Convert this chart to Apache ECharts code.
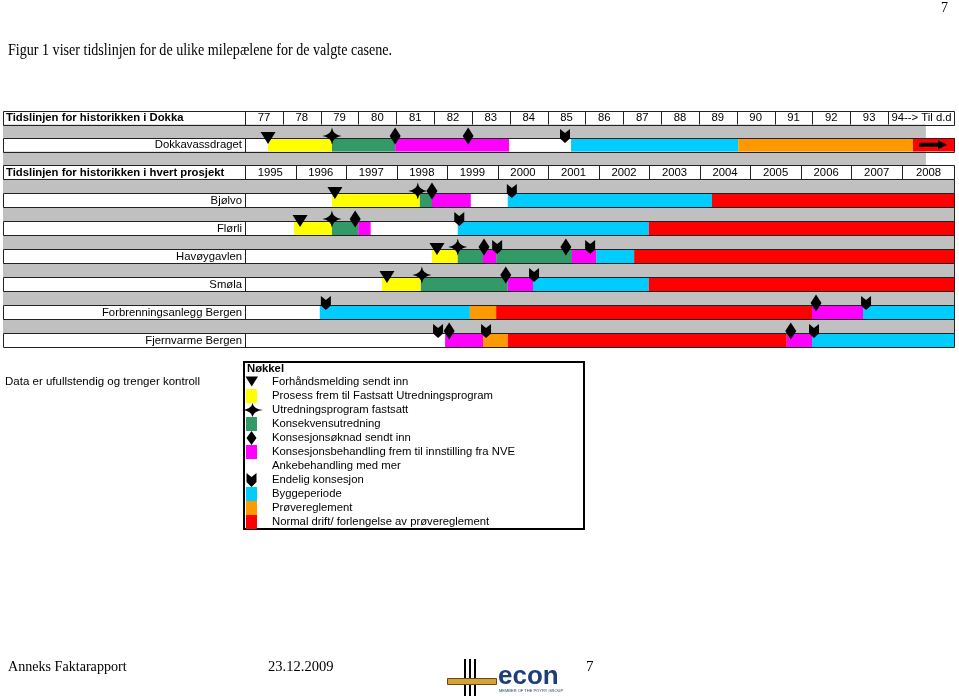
<!DOCTYPE html>
<html><head><meta charset="utf-8">
<script src="https://cdn.jsdelivr.net/npm/echarts@6/dist/echarts.min.js"></script>
<style>html,body{margin:0;padding:0;background:#fff}#c{width:959px;height:696px}</style>
</head><body><div id="c"></div>
<script>
// ---------------- DATA ----------------
const dokkaTitle = 'Tidslinjen for historikken i Dokka';
const projectTitle = 'Tidslinjen for historikken i hvert prosjekt';
const dokkaTicks = ['77','78','79','80','81','82','83','84','85','86','87','88','89','90','91','92','93','94--> Til d.d'];
const projectTicks = ['1995','1996','1997','1998','1999','2000','2001','2002','2003','2004','2005','2006','2007','2008'];
const DOKKA_MIN = 77, DOKKA_MAX = 95.77, DOKKA_GRAY_END = 95;
const PROJ_MIN = 1995, PROJ_MAX = 2009.05;

const dokkaName = 'Dokkavassdraget';
const projectNames = ['Bjølvo', 'Flørli', 'Havøygavlen', 'Smøla', 'Forbrenningsanlegg Bergen', 'Fjernvarme Bergen'];

// Periods: [row, start, end]
const prosess = [['Dokkavassdraget',77.61,79.30],['Bjølvo',1996.72,1998.46],['Flørli',1995.97,1996.72],['Havøygavlen',1998.70,1999.21],['Smøla',1997.71,1998.48]];
const konsekvens = [['Dokkavassdraget',79.30,80.97],['Bjølvo',1998.46,1998.70],['Flørli',1996.72,1997.24],['Havøygavlen',1999.21,1999.71],['Havøygavlen',1999.97,2001.47],['Smøla',1998.48,2000.20]];
const behandling = [['Dokkavassdraget',80.97,83.98],['Bjølvo',1998.70,1999.47],['Flørli',1997.24,1997.49],['Havøygavlen',1999.71,1999.97],['Havøygavlen',2001.47,2001.95],['Smøla',2000.20,2000.70],['Forbrenningsanlegg Bergen',2006.22,2007.23],['Fjernvarme Bergen',1998.96,1999.71],['Fjernvarme Bergen',2005.72,2006.22]];
const anke = [['Dokkavassdraget',83.98,85.62],['Bjølvo',1999.47,2000.20],['Flørli',1997.49,1999.21]];
const bygge = [['Dokkavassdraget',85.62,90.04],['Bjølvo',2000.20,2004.24],['Flørli',1999.21,2002.99],['Havøygavlen',2001.95,2002.70],['Smøla',2000.70,2002.99],['Forbrenningsanlegg Bergen',1996.48,1999.45],['Forbrenningsanlegg Bergen',2007.23,2009.05],['Fjernvarme Bergen',2006.22,2009.05]];
const prove = [['Dokkavassdraget',90.04,94.66],['Forbrenningsanlegg Bergen',1999.45,1999.97],['Fjernvarme Bergen',1999.71,2000.20]];
const drift = [['Dokkavassdraget',94.66,95.77],['Bjølvo',2004.24,2009.05],['Flørli',2002.99,2009.05],['Havøygavlen',2002.70,2009.05],['Smøla',2002.99,2009.05],['Forbrenningsanlegg Bergen',1999.97,2006.22],['Fjernvarme Bergen',2000.20,2005.72]];

// Milestones: [row, time]
const forhand = [['Dokkavassdraget',77.61],['Bjølvo',1996.78],['Flørli',1996.09],['Havøygavlen',1998.80],['Smøla',1997.81]];
const utredning = [['Dokkavassdraget',79.30],['Bjølvo',1998.42],['Flørli',1996.72],['Havøygavlen',1999.21],['Smøla',1998.50]];
const soknad = [['Dokkavassdraget',80.97],['Dokkavassdraget',82.90],['Bjølvo',1998.70],['Flørli',1997.18],['Havøygavlen',1999.73],['Havøygavlen',2001.35],['Smøla',2000.16],['Forbrenningsanlegg Bergen',2006.30],['Fjernvarme Bergen',1999.04],['Fjernvarme Bergen',2005.80]];
const endelig = [['Dokkavassdraget',85.46],['Bjølvo',2000.28],['Flørli',1999.24],['Havøygavlen',1999.99],['Havøygavlen',2001.83],['Smøla',2000.72],['Forbrenningsanlegg Bergen',1996.60],['Forbrenningsanlegg Bergen',2007.29],['Fjernvarme Bergen',1998.82],['Fjernvarme Bergen',1999.77],['Fjernvarme Bergen',2006.26]];
const tilDd = [['Dokkavassdraget',95.19]];

// ---------------- STYLE ----------------
const SANS = '"Liberation Sans", Arial, sans-serif';
const SERIF = '"Liberation Serif", "Times New Roman", serif';
const TABLE_LEFT = 3;
const GRAY = '#c0c0c0', LINE = '#222';

const SHAPES = {
  tri:     {path:'M0,0L15,0L7.5,12Z', w:15, h:12, dy:0},
  star:    {path:'M9.5,0Q10.5,7.5 19,8.5Q10.5,9.5 9.5,17Q8.5,9.5 0,8.5Q8.5,7.5 9.5,0Z', w:19, h:17, dy:-2},
  diamond: {path:'M5.5,0L11,8.5L5.5,17L0,8.5Z', w:11, h:17, dy:-2},
  endelig: {path:'M0,0L4.5,4L9,0L9,9.5L4.5,14L0,9.5Z', w:10, h:14, dy:-2},
  arrow:   {path:'M0,2.5H19V0L28,4.5L19,9V6.5H0Z', w:28, h:9}
};
const ICON_FRAME = 'path://M0,0M31,14';
const ICONS = {
  tri: ICON_FRAME + 'M9.5,1.5H22L15.75,11.5Z',
  square: ICON_FRAME + 'M10,0H21V14H10Z',
  star: ICON_FRAME + 'M16.5,0Q17.5,6 27,7Q17.5,8 16.5,14Q15.5,8 6,7Q15.5,6 16.5,0Z',
  diamond: ICON_FRAME + 'M15.5,0L20.5,7L15.5,14L10.5,7Z',
  endelig: ICON_FRAME + 'M10.5,0L15.5,4L20.5,0V9L15.5,14L10.5,9Z'
};

const phases = [
  {name:'Prosess frem til Fastsatt Utredningsprogram', color:'#ffff00', data:prosess},
  {name:'Konsekvensutredning', color:'#339966', data:konsekvens},
  {name:'Konsesjonsbehandling frem til innstilling fra NVE', color:'#ff00ff', data:behandling},
  {name:'Ankebehandling med mer', color:'#ffffff', data:anke},
  {name:'Byggeperiode', color:'#00ccff', data:bygge},
  {name:'Prøvereglement', color:'#ff9900', data:prove},
  {name:'Normal drift/ forlengelse av prøvereglement', color:'#ff0000', data:drift}
];
const milestones = [
  {name:'Forhåndsmelding sendt inn', shape:'tri', data:forhand},
  {name:'Utredningsprogram fastsatt', shape:'star', data:utredning},
  {name:'Konsesjonsøknad sendt inn', shape:'diamond', data:soknad},
  {name:'Endelig konsesjon', shape:'endelig', data:endelig}
];
const legendOrder = [
  ['Forhåndsmelding sendt inn','tri'],
  ['Prosess frem til Fastsatt Utredningsprogram','square'],
  ['Utredningsprogram fastsatt','star'],
  ['Konsekvensutredning','square'],
  ['Konsesjonsøknad sendt inn','diamond'],
  ['Konsesjonsbehandling frem til innstilling fra NVE','square'],
  ['Ankebehandling med mer','square'],
  ['Endelig konsesjon','endelig'],
  ['Byggeperiode','square'],
  ['Prøvereglement','square'],
  ['Normal drift/ forlengelse av prøvereglement','square']
];

// ---------------- TABLE STRUCTURE ----------------
const rowsA = [{kind:'header', label:dokkaTitle}, {kind:'gray'}, {kind:'bar', label:dokkaName}, {kind:'gray'}];
const rowsB = [{kind:'header', label:projectTitle}];
projectNames.forEach(n => { rowsB.push({kind:'gray'}); rowsB.push({kind:'bar', label:n}); });
function rowOf(name) { return name === dokkaName ? 2 : 2 + 2 * projectNames.indexOf(name); }
function isDokka(d) { return d[0] === dokkaName; }

const series = [];

function tableSeries(rows, idx, xMin, xMax, grayEnd, rightBorder) {
  series.push({
    type:'custom', xAxisIndex:idx, yAxisIndex:idx, z:1, silent:true,
    data: rows.map((r,i)=>[xMin, i]), encode:{x:0, y:1},
    renderItem(params, api) {
      const i = api.value(1); const row = rows[i];
      const a = api.coord([xMin, i]), b = api.coord([xMax, i+1]);
      const yT = a[1], yB = b[1], xL = a[0], xR = b[0];
      if (row.kind === 'gray') {
        const ge = api.coord([grayEnd, i])[0];
        return {type:'rect', shape:{x:TABLE_LEFT, y:yT, width:ge-TABLE_LEFT, height:yB-yT}, style:{fill:GRAY}};
      }
      const ch = [{type:'rect', shape:{x:TABLE_LEFT, y:yT, width:xR-TABLE_LEFT, height:yB-yT}, style:{fill:'#fff'}}];
      if (row.kind === 'header') {
        ch.push({type:'text', style:{text:row.label, x:TABLE_LEFT+3, y:(yT+yB)/2+0.5, font:'bold 11.3px '+SANS, fill:'#000', align:'left', verticalAlign:'middle'}});
      } else {
        ch.push({type:'text', style:{text:row.label, x:xL-3, y:(yT+yB)/2+0.5, font:'11.3px '+SANS, fill:'#000', align:'right', verticalAlign:'middle'}});
      }
      return {type:'group', children:ch};
    }
  });
  // borders
  series.push({
    type:'custom', xAxisIndex:idx, yAxisIndex:idx, z:3, silent:true,
    data: rows.map((r,i)=>[xMin, i]), encode:{x:0, y:1},
    renderItem(params, api) {
      const i = api.value(1); const row = rows[i];
      const a = api.coord([xMin, i]), b = api.coord([xMax, i+1]);
      const yT = Math.round(a[1]) + 0.5, yB = Math.round(b[1]) + 0.5;
      const xL = Math.round(a[0]) + 0.5, xR = Math.round(b[0]) - 0.5, x0 = TABLE_LEFT + 0.5;
      const st = {stroke:LINE, lineWidth:1};
      const ch = [];
      if (row.kind === 'gray') {
        if (rightBorder) ch.push({type:'line', shape:{x1:xR, y1:yT, x2:xR, y2:yB}, style:st});
        return {type:'group', children:ch};
      }
      ch.push({type:'line', shape:{x1:x0, y1:yT, x2:xR, y2:yT}, style:st});
      ch.push({type:'line', shape:{x1:x0, y1:yB, x2:xR, y2:yB}, style:st});
      ch.push({type:'line', shape:{x1:x0, y1:yT, x2:x0, y2:yB}, style:st});
      ch.push({type:'line', shape:{x1:xL, y1:yT, x2:xL, y2:yB}, style:st});
      ch.push({type:'line', shape:{x1:xR, y1:yT, x2:xR, y2:yB}, style:st});
      return {type:'group', children:ch};
    }
  });
}

function tickSeries(ticks, idx, xMax) {
  const starts = ticks.map(t => parseInt(t, 10));
  series.push({
    type:'custom', xAxisIndex:idx, yAxisIndex:idx, z:4, silent:true,
    data: ticks.map((t,i)=>[starts[i], i < ticks.length-1 ? starts[i+1] : xMax, 0]),
    encode:{x:[0,1], y:2},
    renderItem(params, api) {
      const a = api.coord([api.value(0), 0]), b = api.coord([api.value(1), 1]);
      const x = Math.round(a[0]) + 0.5;
      return {type:'group', children:[
        {type:'line', shape:{x1:x, y1:a[1], x2:x, y2:b[1]}, style:{stroke:LINE, lineWidth:1}},
        {type:'text', style:{text:ticks[params.dataIndex], x:(a[0]+b[0])/2, y:(a[1]+b[1])/2+0.5, font:'11.3px '+SANS, fill:'#000', align:'center', verticalAlign:'middle'}}
      ]};
    }
  });
}

function barSeries(ph, dokka) {
  const idx = dokka ? 0 : 1;
  series.push({
    type:'custom', name:ph.name, xAxisIndex:idx, yAxisIndex:idx, z:2, silent:true,
    itemStyle:{color:ph.color},
    data: ph.data.filter(d => isDokka(d) === dokka).map(d => [rowOf(d[0]), d[1], d[2]]),
    encode:{x:[1,2], y:0},
    renderItem(params, api) {
      const r = api.value(0);
      const a = api.coord([api.value(1), r]), b = api.coord([api.value(2), r+1]);
      return {type:'rect', shape:{x:a[0], y:a[1], width:b[0]-a[0], height:b[1]-a[1]}, style:{fill:ph.color}};
    }
  });
}

function markerSeries(name, shapeKey, data, dokka, centerRow) {
  const idx = dokka ? 0 : 1; const sh = SHAPES[shapeKey];
  series.push({
    type:'custom', name:name, xAxisIndex:idx, yAxisIndex:idx, z:5, silent:true,
    itemStyle:{color:'#000'},
    data: data.filter(d => isDokka(d) === dokka).map(d => [rowOf(d[0]), d[1]]),
    encode:{x:1, y:0},
    renderItem(params, api) {
      const r = api.value(0);
      const c = api.coord([api.value(1), centerRow ? r + 0.5 : r]);
      const cy = c[1] + (sh.dy || 0);
      return {type:'path', shape:{pathData:sh.path, x:c[0]-sh.w/2, y:cy-sh.h/2, width:sh.w, height:sh.h, layout:'cover'}, style:{fill:'#000'}};
    }
  });
}

tableSeries(rowsA, 0, DOKKA_MIN, DOKKA_MAX, DOKKA_GRAY_END, false);
tableSeries(rowsB, 1, PROJ_MIN, PROJ_MAX, PROJ_MAX, true);
tickSeries(dokkaTicks, 0, DOKKA_MAX);
tickSeries(projectTicks, 1, PROJ_MAX);
phases.forEach(ph => { barSeries(ph, true); barSeries(ph, false); });
milestones.forEach(m => { markerSeries(m.name, m.shape, m.data, true); markerSeries(m.name, m.shape, m.data, false); });
markerSeries('Til d.d', 'arrow', tilDd, true, true);

const chart = echarts.init(document.getElementById('c'), null, {renderer:'canvas'});
chart.setOption({
  animation:false,
  backgroundColor:'#fff',
  grid:[
    {left:245, right:4, top:111, height:54, outerBoundsMode:'none'},
    {left:245, right:4, top:165, height:182, outerBoundsMode:'none'}
  ],
  xAxis:[
    {type:'value', gridIndex:0, min:DOKKA_MIN, max:DOKKA_MAX, show:false},
    {type:'value', gridIndex:1, min:PROJ_MIN, max:PROJ_MAX, show:false}
  ],
  yAxis:[
    {type:'value', gridIndex:0, min:0, max:rowsA.length, inverse:true, show:false},
    {type:'value', gridIndex:1, min:0, max:rowsB.length, inverse:true, show:false}
  ],
  legend:{
    orient:'vertical', left:236, top:375, itemWidth:31, itemHeight:14, itemGap:0, padding:0,
    selectedMode:false, itemStyle:{borderWidth:0},
    textStyle:{fontSize:11.3, fontFamily:SANS, color:'#000'},
    data: legendOrder.map(l => ({name:l[0], icon:ICONS[l[1]]}))
  },
  graphic:[
    {type:'text', left:941, top:1, style:{text:'7', font:'14px '+SERIF, fill:'#000'}},
    {type:'text', x:8, y:43, scaleX:0.88, style:{text:'Figur 1 viser tidslinjen for de ulike milepælene for de valgte casene.', font:'16px '+SERIF, fill:'#000'}},
    {type:'text', left:5, top:376, style:{text:'Data er ufullstendig og trenger kontroll', font:'11.5px '+SANS, fill:'#000'}},
    {type:'rect', shape:{x:244, y:362, width:340, height:167}, style:{fill:'none', stroke:'#000', lineWidth:2}, z:-1},
    {type:'text', left:247, top:363, style:{text:'Nøkkel', font:'bold 11.3px '+SANS, fill:'#000'}},
    {type:'text', x:8, y:660, scaleX:0.94, style:{text:'Anneks Faktarapport', font:'15px '+SERIF, fill:'#000'}},
    {type:'text', x:268, y:660, scaleX:0.97, style:{text:'23.12.2009', font:'15px '+SERIF, fill:'#000'}},
    {type:'text', x:586, y:660, style:{text:'7', font:'15px '+SERIF, fill:'#000'}},
    // logo
    {type:'rect', shape:{x:464, y:659, width:2, height:37}, style:{fill:'#000'}},
    {type:'rect', shape:{x:469, y:659, width:2, height:37}, style:{fill:'#000'}},
    {type:'rect', shape:{x:474, y:659, width:2, height:37}, style:{fill:'#000'}},
    {type:'rect', shape:{x:447.5, y:678.5, width:49, height:6}, style:{fill:'#d4a23a', stroke:'#6b4a10', lineWidth:1}},
    {type:'text', x:498, y:664, style:{text:'econ', font:'bold 26px '+SANS, fill:'#1c3f7a'}},
    {type:'text', x:499, y:689, style:{text:'MEMBER OF THE PÖYRY GROUP', font:'4px '+SANS, fill:'#1c3f7a'}}
  ],
  series: series
});
</script>
</body></html>
